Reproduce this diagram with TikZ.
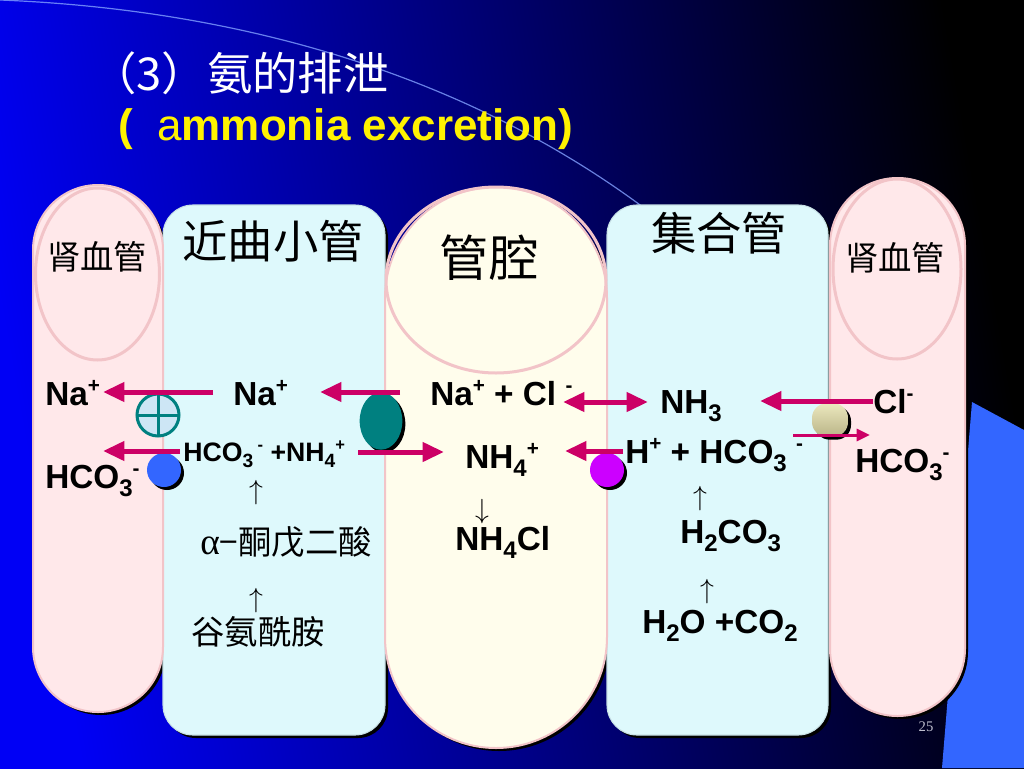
\documentclass[tikz,border=0pt]{standalone}
\usepackage{fontspec}
\usepackage{graphicx}
\setmainfont{Liberation Sans}
\newfontfamily\cjk{Noto Sans CJK SC}
\newfontfamily\serifr{Liberation Serif}
\usetikzlibrary{arrows.meta,shapes.geometric}
\definecolor{bgL}{RGB}{0,0,245}
\definecolor{bgM}{RGB}{0,0,180}
\definecolor{vess}{RGB}{255,232,234}
\definecolor{vessedge}{RGB}{242,196,200}
\definecolor{lum}{RGB}{255,253,236}
\definecolor{tub}{RGB}{222,249,252}
\definecolor{tubedge}{RGB}{200,225,230}
\definecolor{pump}{RGB}{204,0,102}
\definecolor{tealc}{RGB}{0,128,128}
\definecolor{ballblue}{RGB}{51,102,255}
\definecolor{magc}{RGB}{204,0,255}
\definecolor{quadblue}{RGB}{51,102,255}
\definecolor{crossfill}{RGB}{205,230,245}
\definecolor{arcc}{RGB}{130,160,255}
\newcommand\chsub[1]{\raisebox{-0.26em}{\scalebox{0.72}{#1}}}
\newcommand\chsup[1]{\raisebox{0.38em}{\scalebox{0.62}{#1}}}
\tikzset{
  vessel/.style={fill=vess, draw=vessedge, line width=1.5pt},
  lumenst/.style={fill=lum, draw=vessedge, line width=1.5pt},
  tubule/.style={fill=tub, draw=tubedge, line width=0.8pt},
  innerell/.style={draw=vessedge, line width=2.25pt},
  shadowst/.style={fill=black},
  chem/.style={font=\fontsize{25}{30}\selectfont\bfseries, inner sep=0pt, anchor=base west},
  chemsmall/.style={font=\fontsize{20}{24}\selectfont\bfseries, inner sep=0pt, anchor=base west},
  cjkl/.style={font=\cjk\fontsize{25}{30}\selectfont, inner sep=0pt},
  cjkbig/.style={font=\cjk\fontsize{34}{40}\selectfont, inner sep=0pt},
  arrowtxt/.style={font=\fontsize{22}{26}\selectfont, inner sep=0pt},
  pumparrow/.style={draw=pump, line width=3.75pt, -{Triangle[length=16pt,width=14pt]}},
  pumpdouble/.style={draw=pump, line width=3.75pt, {Triangle[length=16pt,width=14pt]}-{Triangle[length=16pt,width=14pt]}},
  pumpthin/.style={draw=pump, line width=2.25pt, -{Triangle[length=10pt,width=9pt]}},
}
\begin{document}
\begin{tikzpicture}[x=0.75pt,y=-0.75pt]
\useasboundingbox (0,0) rectangle (1024,768);
% background
\shade[left color=bgL, middle color=bgM, right color=black, shading angle=100] (0,0) rectangle (1024,768);
\draw[arcc, line width=0.9pt, opacity=0.8] (0,0) .. controls (250,10) and (480,80) .. (660,220);
\fill[quadblue] (972,402) -- (1024,430) -- (1024,768) -- (942,768) -- cycle;

% shadows
\begin{scope}[shift={(3,3)}]
  \fill[shadowst, rounded corners=22.5pt] (163,205) rectangle (385,735);
  \fill[shadowst, rounded corners=22.5pt] (607,205) rectangle (828,735);
  \fill[shadowst, rounded corners=48.7pt] (33,185) rectangle (163,712);
  \fill[shadowst, rounded corners=83.2pt] (385,187) rectangle (607,748);
  \fill[shadowst, rounded corners=50.5pt] (830,178) rectangle (965,716);
\end{scope}

% tubules
\draw[tubule, rounded corners=22.5pt] (163,205) rectangle (385,735);
\draw[tubule, rounded corners=22.5pt] (607,205) rectangle (828,735);
% vessels and lumen
\draw[vessel, rounded corners=48.7pt] (33,185) rectangle (163,712);
\draw[lumenst, rounded corners=83.2pt] (385,187) rectangle (607,748);
\draw[vessel, rounded corners=50.5pt] (830,178) rectangle (965,716);
\draw[innerell] (97.5,274) ellipse [x radius=46.5pt, y radius=64.5pt];
\draw[innerell] (496,280) ellipse [x radius=82.5pt, y radius=69.75pt];
\draw[innerell] (897,269) ellipse [x radius=48pt, y radius=67.5pt];

% title
\node[cjkbig, text=white, anchor=west] (title1) at (91,73) {（3）氨的排泄};
\node[font=\fontsize{33}{40}\selectfont, text=yellow, inner sep=0pt, anchor=base west] (title2) at (118,140) {\bfseries(\ \ \mdseries a\bfseries mmonia excretion)};

% region labels
\node[cjkl] (bvL) at (97,257) {肾血管};
\node[cjkbig] (pt) at (273,241) {近曲小管};
\node[cjkl, font=\cjk\fontsize{37}{44}\selectfont] (lumen) at (489,258) {管腔};
\node[cjkbig] (cd) at (719,233) {集合管};
\node[cjkl] (bvR) at (895,258) {肾血管};

% chemistry labels
\node[chem] (naL) at (45,405) {Na\chsup{+}};
\node[chem] (hco3L) at (45,488) {HCO\chsub{3}\chsup{-}};
\node[chem] (naP) at (233,405) {Na\chsup{+}};
\node[chemsmall] (hco3P) at (183,461) {HCO\chsub{3}\,\chsup{-} +NH\chsub{4}\chsup{+}};
\node[arrowtxt] (upP1) at (256,493) {$\uparrow$};
\node[cjkl] (akg) at (286,542) {{\serifr\fontsize{28}{30}\selectfont α}−酮戊二酸};
\node[arrowtxt] (upP2) at (256,601) {$\uparrow$};
\node[cjkl] (gln) at (258,632) {谷氨酰胺};

\node[chem] (nacl) at (430,405) {Na\chsup{+} + Cl \chsup{-}};
\node[chem] (nh4) at (465,468) {NH\chsub{4}\chsup{+}};
\node[arrowtxt] (downL) at (482,512) {$\downarrow$};
\node[chem] (nh4cl) at (455,550) {NH\chsub{4}Cl};

\node[chem] (nh3) at (660,413) {NH\chsub{3}};
\node[chem] (hhco3) at (625,463) {H\chsup{+} + HCO\chsub{3} \chsup{-}};
\node[arrowtxt] (upC1) at (700,499) {$\uparrow$};
\node[chem] (h2co3) at (680,543) {H\chsub{2}CO\chsub{3}};
\node[arrowtxt] (upC2) at (707,592) {$\uparrow$};
\node[chem] (h2o) at (642,633) {H\chsub{2}O +CO\chsub{2}};

\node[chem] (clR) at (873,413) {Cl\chsup{-}};
\node[chem] (hco3R) at (855,472) {HCO\chsub{3}\chsup{-}};

\node[font=\serifr\fontsize{11}{13}\selectfont, text={rgb,255:red,190;green,190;blue,205}, inner sep=0pt] (pg) at (926,727) {25};

% transporters
\node[circle, draw=tealc, line width=2.25pt, fill=crossfill, minimum size=31.5pt, inner sep=0pt, outer sep=0pt] (xa) at (158,415) {};
\draw[tealc, line width=2.25pt] (xa.north) -- (xa.south) (xa.west) -- (xa.east);

\node[circle, fill=black, minimum size=25.5pt, inner sep=0pt] (bbS) at (167,473) {};
\node[circle, fill=ballblue, minimum size=25.5pt, inner sep=0pt] (bb) at (164,470) {};

\node[ellipse, fill=black, minimum width=32pt, minimum height=43pt, inner sep=0pt] (teS) at (384,424) {};
\node[ellipse, fill=tealc, minimum width=32pt, minimum height=43pt, inner sep=0pt] (te) at (381,421) {};

\node[circle, fill=black, minimum size=25.5pt, inner sep=0pt] (mgS) at (610,473) {};
\node[circle, fill=magc, minimum size=25.5pt, inner sep=0pt] (mg) at (607,470) {};

\node[rectangle, rounded corners=11pt, fill=black, minimum width=27pt, minimum height=25pt, inner sep=0pt] (capS) at (833,423) {};
\node[rectangle, rounded corners=11pt, minimum width=27pt, minimum height=25pt, inner sep=0pt,
  top color={rgb,255:red,235;green,232;blue,190}, middle color={rgb,255:red,255;green,255;blue,232}, bottom color={rgb,255:red,185;green,180;blue,135}] (cap) at (830,420) {};

% arrows
\coordinate (a1s) at (213,392); \coordinate (a1e) at (103,392);
\coordinate (a2s) at (180,451); \coordinate (a2e) at (103,451);
\coordinate (a3s) at (400,392); \coordinate (a3e) at (320,392);
\coordinate (a4s) at (358,452); \coordinate (a4e) at (444,452);
\coordinate (a5s) at (563,402); \coordinate (a5e) at (648,402);
\coordinate (a6s) at (623,451); \coordinate (a6e) at (565,451);
\coordinate (a7s) at (873,401); \coordinate (a7e) at (760,401);
\coordinate (a8s) at (793,435); \coordinate (a8e) at (870,435);
\draw[pumparrow] (a1s) -- (a1e);
\draw[pumparrow] (a2s) -- (a2e);
\draw[pumparrow] (a3s) -- (a3e);
\draw[pumparrow] (a4s) -- (a4e);
\draw[pumpdouble] (a5s) -- (a5e);
\draw[pumparrow] (a6s) -- (a6e);
\draw[pumparrow] (a7s) -- (a7e);
\draw[pumpthin] (a8s) -- (a8e);
\end{tikzpicture}
\end{document}
